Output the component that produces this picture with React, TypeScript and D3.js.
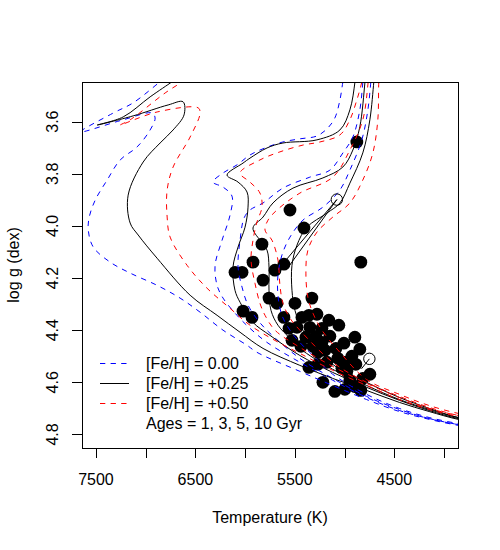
import React, { useEffect, useRef } from 'react';
import * as d3 from 'd3';

// isochrones, [Teff (K), log g]; 1, 3, 5, 10 Gyr for each [Fe/H]
const feh000_1 = [[6804,3.432],[6855,3.447],[7126,3.528],[7326,3.567],[7660,3.640],[7226,3.593],[6935,3.567],[6905,3.586],[6955,3.632],[7086,3.697],[7256,3.747],[7387,3.824],[7507,3.901],[7567,3.966],[7577,4.016],[7527,4.081],[7357,4.139],[7156,4.181],[6885,4.228],[6654,4.277],[6453,4.331],[6222,4.400],[5981,4.458],[5881,4.485],[5450,4.558],[5120,4.612],[4780,4.666],[4450,4.712],[4150,4.742],[3860,4.765],[3650,4.777]];
const feh000_3 = [[4997,3.409],[5017,3.447],[5047,3.517],[5098,3.586],[5168,3.624],[5278,3.655],[5449,3.666],[5620,3.678],[5800,3.701],[5951,3.728],[6082,3.766],[6222,3.797],[6322,3.832],[6222,3.851],[6132,3.886],[6152,3.959],[6232,4.055],[6302,4.151],[6282,4.228],[6222,4.277],[6082,4.343],[5951,4.393],[5780,4.447],[5450,4.523],[5120,4.592],[4780,4.658],[4450,4.708],[4150,4.739],[3860,4.762],[3650,4.773]];
const feh000_5 = [[4807,3.409],[4817,3.451],[4847,3.555],[4917,3.659],[5017,3.720],[5148,3.786],[5349,3.813],[5620,3.855],[5820,3.912],[5951,3.939],[6011,3.970],[6051,4.055],[6071,4.158],[6031,4.235],[5971,4.304],[5871,4.362],[5750,4.412],[5450,4.508],[5120,4.585],[4780,4.654],[4450,4.704],[4150,4.739],[3860,4.762],[3650,4.773]];
const feh000_10 = [[4726,3.409],[4736,3.447],[4766,3.555],[4827,3.670],[4947,3.786],[5047,3.862],[5218,3.928],[5419,3.978],[5549,4.043],[5630,4.112],[5670,4.189],[5670,4.266],[5630,4.343],[5549,4.400],[5450,4.447],[5300,4.504],[5120,4.569],[4780,4.646],[4450,4.700],[4150,4.735],[3860,4.758],[3650,4.769]];

const feh025_1 = [[6694,3.436],[6734,3.447],[6955,3.505],[7226,3.582],[7487,3.613],[7126,3.578],[6774,3.536],[6624,3.524],[6614,3.574],[6724,3.632],[6855,3.682],[7025,3.755],[7176,3.882],[7156,3.989],[7075,4.035],[6885,4.124],[6553,4.266],[6282,4.343],[6051,4.408],[5820,4.470],[5450,4.535],[5120,4.585],[4780,4.631],[4450,4.677],[4150,4.712],[3860,4.742],[3650,4.754]];
const feh025_3 = [[4887,3.409],[4897,3.451],[4947,3.555],[5047,3.632],[5278,3.670],[5620,3.682],[5780,3.701],[5951,3.740],[6021,3.759],[6182,3.805],[6071,3.832],[5981,3.870],[5971,3.928],[6001,4.005],[6071,4.081],[6122,4.158],[6102,4.247],[6051,4.293],[5921,4.370],[5750,4.420],[5450,4.497],[5120,4.562],[4780,4.619],[4450,4.669],[4150,4.708],[3860,4.739],[3650,4.750]];
const feh025_5 = [[4786,3.409],[4796,3.451],[4847,3.620],[4917,3.709],[5017,3.774],[5218,3.816],[5519,3.855],[5720,3.912],[5820,3.966],[5921,4.008],[5851,4.055],[5780,4.093],[5760,4.158],[5760,4.247],[5740,4.324],[5670,4.381],[5549,4.431],[5450,4.470],[5120,4.550],[4780,4.612],[4450,4.666],[4150,4.704],[3860,4.735],[3650,4.746]];
const feh025_10 = [[4696,3.409],[4706,3.447],[4746,3.593],[4817,3.720],[4947,3.836],[5047,3.912],[5178,3.951],[5379,4.005],[5479,4.074],[5529,4.151],[5529,4.247],[5499,4.324],[5419,4.400],[5298,4.458],[5120,4.531],[4780,4.600],[4450,4.658],[4150,4.700],[3860,4.735],[3650,4.746]];

const feh050_1 = [[6604,3.436],[6634,3.447],[6804,3.490],[7156,3.593],[7256,3.613],[6885,3.563],[6473,3.547],[6453,3.567],[6553,3.659],[6724,3.774],[6784,3.862],[6784,3.966],[6754,4.043],[6584,4.151],[6383,4.239],[6152,4.316],[5951,4.381],[5650,4.450],[5450,4.489],[5120,4.554],[4780,4.612],[4450,4.666],[4150,4.704],[3860,4.731],[3650,4.742]];
const feh050_3 = [[4817,3.409],[4827,3.447],[4847,3.478],[4877,3.517],[4947,3.593],[5047,3.651],[5248,3.678],[5419,3.690],[5650,3.716],[5851,3.747],[6051,3.797],[5951,3.832],[5851,3.874],[5831,3.928],[5881,3.985],[5921,4.055],[5941,4.131],[5901,4.220],[5851,4.297],[5800,4.343],[5700,4.400],[5450,4.466],[5120,4.539],[4780,4.604],[4450,4.658],[4150,4.700],[3860,4.727],[3650,4.739]];
const feh050_5 = [[4756,3.409],[4766,3.459],[4817,3.593],[4947,3.709],[5118,3.813],[5449,3.874],[5680,3.939],[5770,3.978],[5800,4.016],[5730,4.055],[5670,4.131],[5650,4.228],[5620,4.297],[5549,4.354],[5450,4.400],[5120,4.523],[4780,4.600],[4450,4.654],[4150,4.696],[3860,4.727],[3650,4.739]];
const feh050_10 = [[4646,3.409],[4656,3.447],[4666,3.593],[4716,3.720],[4817,3.824],[4947,3.912],[5118,3.966],[5278,4.024],[5369,4.093],[5389,4.181],[5369,4.274],[5318,4.335],[5228,4.400],[5047,4.485],[4780,4.589],[4450,4.646],[4150,4.689],[3860,4.719],[3650,4.731]];

// observed stars
const stars = [[4877,3.678],[5549,3.939],[5409,4.008],[5831,4.070],[5921,4.139],[5610,4.147],[4837,4.139],[6102,4.178],[6031,4.178],[5700,4.170],[5820,4.208],[5760,4.277],[5680,4.297],[5499,4.297],[5329,4.277],[6021,4.327],[5931,4.351],[5610,4.351],[5429,4.351],[5278,4.339],[5158,4.362],[5058,4.381],[5479,4.389],[5349,4.389],[5228,4.393],[5529,4.439],[5439,4.462],[5318,4.462],[5228,4.447],[5148,4.423],[5268,4.485],[5359,4.543],[5268,4.531],[5178,4.523],[5218,4.600],[5098,4.635],[5007,4.450],[4897,4.427],[4847,4.473],[4927,4.500],[4987,4.523],[4977,4.558],[4947,4.592],[4997,4.627],[4897,4.616],[4817,4.585],[4746,4.569],[4837,4.631],[5389,4.427],[5288,4.424],[5559,4.393],[5359,4.343],[5198,4.477],[5088,4.470],[5068,4.508],[5027,4.546],[4887,4.531]];
const openStars = [[5078,3.899],[4751,4.510]];
const links = [[5078,3.899,5620,4.145],[5078,3.899,5560,4.155],[4751,4.510,4830,4.548]];

const xTicks = [7500,7000,6500,6000,5500,5000,4500,4000];
const xTickLabels = ['7500','','6500','','5500','','4500',''];
const yTicks = [3.6,3.8,4.0,4.2,4.4,4.6,4.8];
const yTickLabels = ['3.6','3.8','4.0','4.2','4.4','4.6','4.8'];
const legendLabels = ['[Fe/H] = 0.00','[Fe/H] = +0.25','[Fe/H] = +0.50','Ages = 1, 3, 5, 10 Gyr'];

const isoSets = [
  { color: '#0000FF', dash: '5.3,5.3', curves: [feh000_1, feh000_3, feh000_5, feh000_10] },
  { color: '#000000', dash: null, curves: [feh025_1, feh025_3, feh025_5, feh025_10] },
  { color: '#FF0000', dash: '5.3,5.3', curves: [feh050_1, feh050_3, feh050_5, feh050_10] },
];

const FONT = '"Liberation Sans", Arial, Helvetica, sans-serif';

const App = () => {
  const ref = useRef(null);

  useEffect(() => {
    const width = 500, height = 550;
    const left = 82, top = 82, right = 458, bottom = 448;

    const svg = d3.select(ref.current);
    svg.selectAll('*').remove();
    svg.attr('width', width).attr('height', height).attr('viewBox', [0, 0, width, height]);

    svg.append('rect').attr('width', width).attr('height', height).attr('fill', 'white');

    const x = d3.scaleLinear().domain([7640, 3860]).range([left, right]);
    const y = d3.scaleLinear().domain([3.448, 4.852]).range([top, bottom]);

    svg.append('clipPath').attr('id', 'plotclip')
      .append('rect').attr('x', left).attr('y', top).attr('width', right - left).attr('height', bottom - top);

    const plot = svg.append('g').attr('clip-path', 'url(#plotclip)');

    // stars
    plot.append('g').selectAll('circle')
      .data(stars)
      .join('circle')
        .attr('cx', d => x(d[0]))
        .attr('cy', d => y(d[1]))
        .attr('r', 6.4)
        .attr('fill', 'black');

    // isochrones
    const line = d3.line()
      .x(d => x(d[0]))
      .y(d => y(d[1]))
      .curve(d3.curveCatmullRom.alpha(0.5));

    isoSets.forEach(set => {
      plot.append('g').selectAll('path')
        .data(set.curves)
        .join('path')
          .attr('d', line)
          .attr('fill', 'none')
          .attr('stroke', set.color)
          .attr('stroke-width', 1)
          .attr('stroke-dasharray', set.dash);
    });

    // links + open symbols
    plot.append('g').selectAll('line')
      .data(links)
      .join('line')
        .attr('x1', d => x(d[0])).attr('y1', d => y(d[1]))
        .attr('x2', d => x(d[2])).attr('y2', d => y(d[3]))
        .attr('stroke', 'black');

    plot.append('g').selectAll('circle')
      .data(openStars)
      .join('circle')
        .attr('cx', d => x(d[0]))
        .attr('cy', d => y(d[1]))
        .attr('r', 5.7)
        .attr('fill', 'none')
        .attr('stroke', 'black');

    // box
    svg.append('rect')
      .attr('x', left + 0.5).attr('y', top + 0.5)
      .attr('width', right - left).attr('height', bottom - top)
      .attr('fill', 'none').attr('stroke', 'black');

    // x axis
    const xa = svg.append('g');
    xa.selectAll('line')
      .data(xTicks)
      .join('line')
        .attr('x1', d => Math.round(x(d)) + 0.5).attr('x2', d => Math.round(x(d)) + 0.5)
        .attr('y1', bottom).attr('y2', bottom + 10)
        .attr('stroke', 'black');
    xa.selectAll('text')
      .data(xTicks)
      .join('text')
        .attr('x', d => x(d))
        .attr('y', 485)
        .attr('text-anchor', 'middle')
        .attr('font-family', FONT)
        .attr('font-size', 16)
        .text((d, i) => xTickLabels[i]);

    // y axis
    const ya = svg.append('g');
    ya.selectAll('line')
      .data(yTicks)
      .join('line')
        .attr('x1', left - 10).attr('x2', left)
        .attr('y1', d => Math.round(y(d)) + 0.5).attr('y2', d => Math.round(y(d)) + 0.5)
        .attr('stroke', 'black');
    ya.selectAll('text')
      .data(yTicks)
      .join('text')
        .attr('transform', d => `translate(58,${y(d)}) rotate(-90)`)
        .attr('text-anchor', 'middle')
        .attr('font-family', FONT)
        .attr('font-size', 16)
        .text((d, i) => yTickLabels[i]);

    svg.append('text')
      .attr('x', (left + right) / 2).attr('y', 523)
      .attr('text-anchor', 'middle')
      .attr('font-family', FONT).attr('font-size', 16)
      .text('Temperature (K)');

    svg.append('text')
      .attr('transform', `translate(19,${(top + bottom) / 2}) rotate(-90)`)
      .attr('text-anchor', 'middle')
      .attr('font-family', FONT).attr('font-size', 16)
      .text('log g (dex)');

    // legend
    const lg = svg.append('g');
    legendLabels.forEach((label, i) => {
      const yy = 363 + i * 20;
      if (i < 3) {
        lg.append('line')
          .attr('x1', 100).attr('x2', 129)
          .attr('y1', yy + 0.5).attr('y2', yy + 0.5)
          .attr('stroke', isoSets[i].color)
          .attr('stroke-width', 1)
          .attr('stroke-dasharray', isoSets[i].dash);
      }
      lg.append('text')
        .attr('x', 146).attr('y', yy + 5.5)
        .attr('font-family', FONT).attr('font-size', 16)
        .text(label);
    });
  }, []);

  return (
    <div style={{ position: 'absolute', left: 0, top: 0 }}>
      <svg ref={ref}></svg>
    </div>
  );
};

export default App;
